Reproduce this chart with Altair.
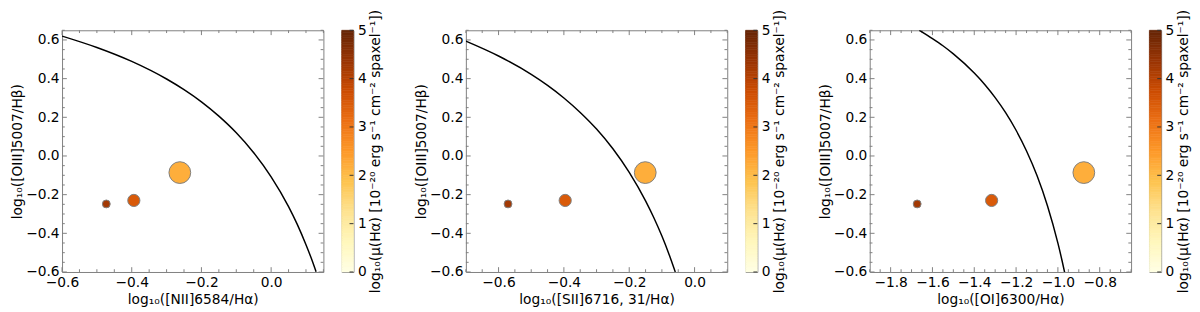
import altair as alt
import numpy as np
import pandas as pd

# ---------------- data ----------------
flux = [4.25, 3.5, 2.2]                # log10 mu(Halpha) colour values
marker_area = [64, 154, 491]           # marker areas (px^2)
oiii_hb = [-0.248, -0.230, -0.086]
nii_ha = [-0.473, -0.394, -0.262]
sii_ha = [-0.571, -0.396, -0.151]
oi_ha = [-1.673, -1.317, -0.876]

# Kewley et al. (2001) maximum-starburst lines, sampled
nii_line_x = [-0.6, -0.5, -0.4, -0.3, -0.25, -0.2, -0.15, -0.1, -0.05, 0.0, 0.05, 0.075, 0.1, 0.115, 0.129]
nii_line_y = [0.620, 0.561, 0.489, 0.398, 0.343, 0.280, 0.206, 0.120, 0.017, -0.108, -0.262, -0.354, -0.459, -0.528, -0.599]
sii_line_x = [-0.7, -0.6, -0.5, -0.45, -0.4, -0.35, -0.3, -0.25, -0.2, -0.15, -0.125, -0.1, -0.08, -0.059]
sii_line_y = [0.594, 0.517, 0.422, 0.365, 0.300, 0.225, 0.139, 0.037, -0.085, -0.232, -0.318, -0.414, -0.500, -0.600]
oi_line_x = [-1.663, -1.6, -1.55, -1.5, -1.4, -1.35, -1.3, -1.25, -1.2, -1.15, -1.1, -1.05, -1.0, -0.98, -0.968]
oi_line_y = [0.650, 0.607, 0.570, 0.528, 0.429, 0.370, 0.302, 0.224, 0.133, 0.026, -0.101, -0.257, -0.451, -0.542, -0.601]

x_domains = [[-0.6, 0.15], [-0.7, 0.1], [-1.9, -0.65]]
y_domain = [-0.6, 0.65]
x_major = [[-0.6, -0.4, -0.2, 0.0], [-0.6, -0.4, -0.2, 0.0],
           [-1.8, -1.6, -1.4, -1.2, -1.0, -0.8]]
y_major = [-0.6, -0.4, -0.2, 0.0, 0.2, 0.4, 0.6]
cbar_ticks = [0, 1, 2, 3, 4, 5]
x_titles = ["log₁₀([NII]6584/Hα)", "log₁₀([SII]6716, 31/Hα)", "log₁₀([OI]6300/Hα)"]
y_title = "log₁₀([OIII]5007/Hβ)"
cbar_title = "log₁₀(μ(Hα) [10⁻²⁰ erg s⁻¹ cm⁻² spaxel⁻¹])"

# matplotlib YlOrBr anchor colours
cmap_colors = ["#ffffe5", "#fff7bc", "#fee391", "#fec44f", "#fe9929",
               "#ec7014", "#cc4c02", "#993404", "#662506"]

# ---------------- styling ----------------
W, H = 266, 246
CBW = 12
FONT = "DejaVu Sans"
FS = 14
FRAME = "#808080"
TL_MAJ, TL_MIN = 4.9, 2.8

cscale = alt.Scale(domain=[5 * k / 8 for k in range(9)], range=cmap_colors,
                   interpolate="rgb", nice=False, zero=False)


def minor_ticks(lo, hi, majors, step=0.05):
    vals = np.round(np.arange(lo, hi + 1e-9, step), 3)
    return [float(v) for v in vals if all(abs(v - m) > 1e-6 for m in majors)]


def panel(i, xs, lx, ly):
    xd = x_domains[i]
    xscale = alt.Scale(domain=xd, nice=False, zero=False)
    yscale = alt.Scale(domain=y_domain, nice=False, zero=False)
    xaxis = alt.Axis(title=x_titles[i], values=x_major[i], format=".1f", ticks=False,
                     tickSize=0, domain=False, grid=False, labelPadding=4, titlePadding=3,
                     labelFlush=False, labelOverlap=False)
    yaxis = alt.Axis(title=y_title, values=y_major, format=".1f", ticks=False,
                     tickSize=0, domain=False, grid=False, labelPadding=3, titlePadding=1,
                     labelOverlap=False, labelFlush=False)
    X = lambda f: alt.X(f"{f}:Q", scale=xscale, axis=xaxis)
    Y = lambda f: alt.Y(f"{f}:Q", scale=yscale, axis=yaxis)

    pts = pd.DataFrame({"x": xs, "y": oiii_hb, "v": flux, "s": marker_area})
    line = pd.DataFrame({"x": lx, "y": ly})
    xmaj = pd.DataFrame({"x": x_major[i]})
    ymaj = pd.DataFrame({"y": y_major})
    xmin_ = pd.DataFrame({"x": minor_ticks(xd[0], xd[1], x_major[i])})
    ymin_ = pd.DataFrame({"y": minor_ticks(y_domain[0], y_domain[1], y_major)})

    layers = []
    for df, tl in ((xmaj, TL_MAJ), (xmin_, TL_MIN)):
        layers.append(alt.Chart(df).mark_rule(color=FRAME, strokeWidth=1).encode(
            x=X("x"), y=alt.value(H), y2=alt.value(H - tl)))
        layers.append(alt.Chart(df).mark_rule(color=FRAME, strokeWidth=1).encode(
            x=X("x"), y=alt.value(0), y2=alt.value(tl)))
    for df, tl in ((ymaj, TL_MAJ), (ymin_, TL_MIN)):
        layers.append(alt.Chart(df).mark_rule(color=FRAME, strokeWidth=1).encode(
            y=Y("y"), x=alt.value(0), x2=alt.value(tl)))
        layers.append(alt.Chart(df).mark_rule(color=FRAME, strokeWidth=1).encode(
            y=Y("y"), x=alt.value(W), x2=alt.value(W - tl)))

    layers.append(alt.Chart(pts).mark_circle(opacity=1, stroke=FRAME, strokeWidth=1).encode(
        x=X("x"), y=Y("y"),
        color=alt.Color("v:Q", scale=cscale, legend=None),
        size=alt.Size("s:Q", scale=None, legend=None)))
    layers.append(alt.Chart(line).mark_line(color="black", strokeWidth=1.5,
                                           interpolate="monotone", clip=True).encode(
        x=X("x"), y=Y("y")))
    return alt.layer(*layers).properties(width=W, height=H)


def colorbar():
    lo = np.round(np.arange(0, 5, 0.05), 3)
    df = pd.DataFrame({"lo": lo, "hi": np.round(lo + 0.05, 3), "mid": np.round(lo + 0.025, 4)})
    ysc = alt.Scale(domain=[0, 5], nice=False, zero=False)
    yax = alt.Axis(orient="right", values=cbar_ticks, format="d", title=cbar_title,
                   titleAngle=270, ticks=False, tickSize=0, domain=False, grid=False,
                   labelPadding=4, titlePadding=3, labelOverlap=False, labelFlush=False,
                   titleBaseline="top", titleFontSize=14)
    rects = alt.Chart(df).mark_rect(strokeWidth=0.6).encode(
        y=alt.Y("lo:Q", scale=ysc, axis=yax), y2="hi:Q",
        x=alt.value(0), x2=alt.value(CBW),
        color=alt.Color("mid:Q", scale=cscale, legend=None),
        stroke=alt.Stroke("mid:Q", scale=cscale, legend=None))
    tdf = pd.DataFrame({"lo": cbar_ticks})
    ticks = alt.Chart(tdf).mark_rule(color="#333333", strokeWidth=1).encode(
        y=alt.Y("lo:Q", scale=ysc, axis=yax), x=alt.value(CBW), x2=alt.value(CBW - 4))
    return alt.layer(rects, ticks).properties(width=CBW, height=H)


groups = []
for i, (xs, lx, ly) in enumerate([(nii_ha, nii_line_x, nii_line_y),
                                  (sii_ha, sii_line_x, sii_line_y),
                                  (oi_ha, oi_line_x, oi_line_y)]):
    g = alt.hconcat(panel(i, xs, lx, ly), colorbar(), spacing=16.6).resolve_scale(
        x="independent", y="independent")
    groups.append(g)

chart = alt.hconcat(*groups, spacing=30).resolve_scale(
    x="independent", y="independent"
).properties(
    padding={"left": 2, "top": -2, "right": 0, "bottom": 0}
).configure_view(
    stroke=FRAME, strokeWidth=1
).configure_axis(
    labelFont=FONT, titleFont=FONT, labelFontSize=FS, titleFontSize=FS,
    labelColor="black", titleColor="black", titleFontWeight="normal"
)

chart.save("out.html", embed_options={"renderer": "svg", "actions": False})
